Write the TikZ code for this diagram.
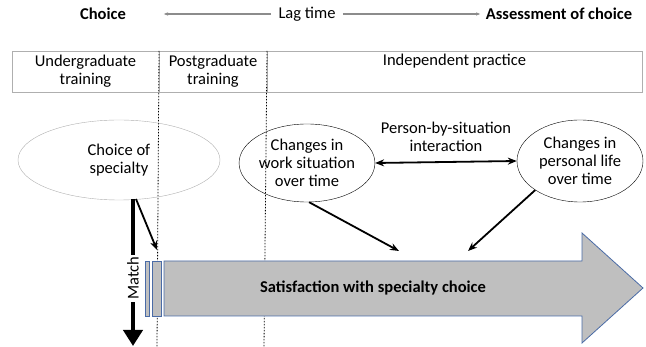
\documentclass[tikz,border=0pt]{standalone}
\usepackage{fontspec}
\setmainfont{Carlito}
\usetikzlibrary{arrows.meta,positioning,shapes.geometric}
\definecolor{boxgray}{rgb}{0.75, 0.75, 0.75}
\definecolor{edgeblue}{rgb}{0.29, 0.42, 0.65}
\definecolor{linegray}{rgb}{0.55, 0.55, 0.55}

\begin{document}
\begin{tikzpicture}[x=1pt, y=-1pt,
    every node/.style={font=\fontsize{16.5}{18}\selectfont, align=center},
    phase/.style={draw=linegray!70, minimum height=41pt, inner sep=0pt},
    factor/.style={draw, ellipse, inner sep=0pt},
    divider/.style={dash pattern=on 1.5pt off 1.5pt, line width=0.8pt},
    bar/.style={fill=boxgray, draw=edgeblue, line width=0.8pt},
    influence/.style={-{Stealth[length=9pt, width=7pt]}, line width=1.8pt}]
    \useasboundingbox (0, 0) rectangle (646, 347);
    % time line
    \node[font=\fontsize{16.5}{18}\selectfont\bfseries] (choice) at (103, 14) {Choice};
    \node (lag) at (307, 14) {Lag time};
    \node[font=\fontsize{16.5}{18}\selectfont\bfseries] (assess) at (559, 14) {Assessment of choice};
    \coordinate (lagL) at (163, 14);
    \coordinate (lagR) at (481, 14);
    \draw[-{Latex[length=5pt, width=3.5pt]}, color=linegray, line width=1.2pt] ([xshift=-4pt]lag.west) -- (lagL);
    \draw[-{Latex[length=5pt, width=3.5pt]}, color=linegray, line width=1.2pt] ([xshift=4pt]lag.east) -- (lagR);
    % phases
    \node[phase, minimum width=147pt] (ug) at (85.5, 71.5) {Undergraduate\\training};
    \node[phase, minimum width=108pt] (pg) at (213, 71.5) {Postgraduate\\training};
    \node[phase, minimum width=375pt] (ip) at (454.5, 71.5) {Independent practice\\\strut};
    \coordinate (d1t) at (159, 51);
    \coordinate (d1b) at (157, 347);
    \coordinate (d2t) at (267, 51);
    \coordinate (d2b) at (264, 347);
    \draw[divider] (d1t) -- (d1b);
    \draw[divider] (d2t) -- (d2b);
    % factors
    \node[factor, draw=linegray!70, minimum width=202pt, minimum height=80pt] (spec) at (119, 160) {Choice of\\specialty};
    \node[factor, minimum width=124pt, minimum height=78pt] (work) at (307, 163) {Changes in\\work situation\\over time};
    \node[factor, minimum width=126pt, minimum height=82pt] (life) at (580, 161) {Changes in\\personal life\\over time};
    \draw[{Stealth[length=9pt, width=7pt]}-{Stealth[length=9pt, width=7pt]}, line width=1.8pt] (work.east) -- node[above=6pt] {Person-by-situation\\interaction} (life.west);
    % satisfaction arrow
    \draw[bar] (164, 261) -- (582, 261) -- (582, 233) -- (643, 288) -- (582, 343) -- (582, 316) -- (164, 316) -- cycle;
    \node[font=\fontsize{16.5}{18}\selectfont\bfseries] (sat) at (373, 288) {Satisfaction with specialty choice};
    \draw[bar] (145, 261) rectangle (149, 316);
    \draw[bar] (152, 261) rectangle (161, 316);
    \coordinate (hitW) at (399, 251);
    \coordinate (hitL) at (468, 251);
    \coordinate (hitS) at (157, 250);
    \draw[influence] (work.-87) -- (hitW);
    \draw[influence] (life.213) -- (hitL);
    \draw[influence] (136, 199) -- (hitS);
    % match
    \coordinate (m1) at (133, 199);
    \coordinate (m2) at (133, 346);
    \draw[-{Triangle[length=16pt, width=19pt]}, line width=4.5pt] (m1) -- node[pos=0.54, fill=white, rotate=90, inner sep=2pt] {Match} (m2);
\end{tikzpicture}
\end{document}
